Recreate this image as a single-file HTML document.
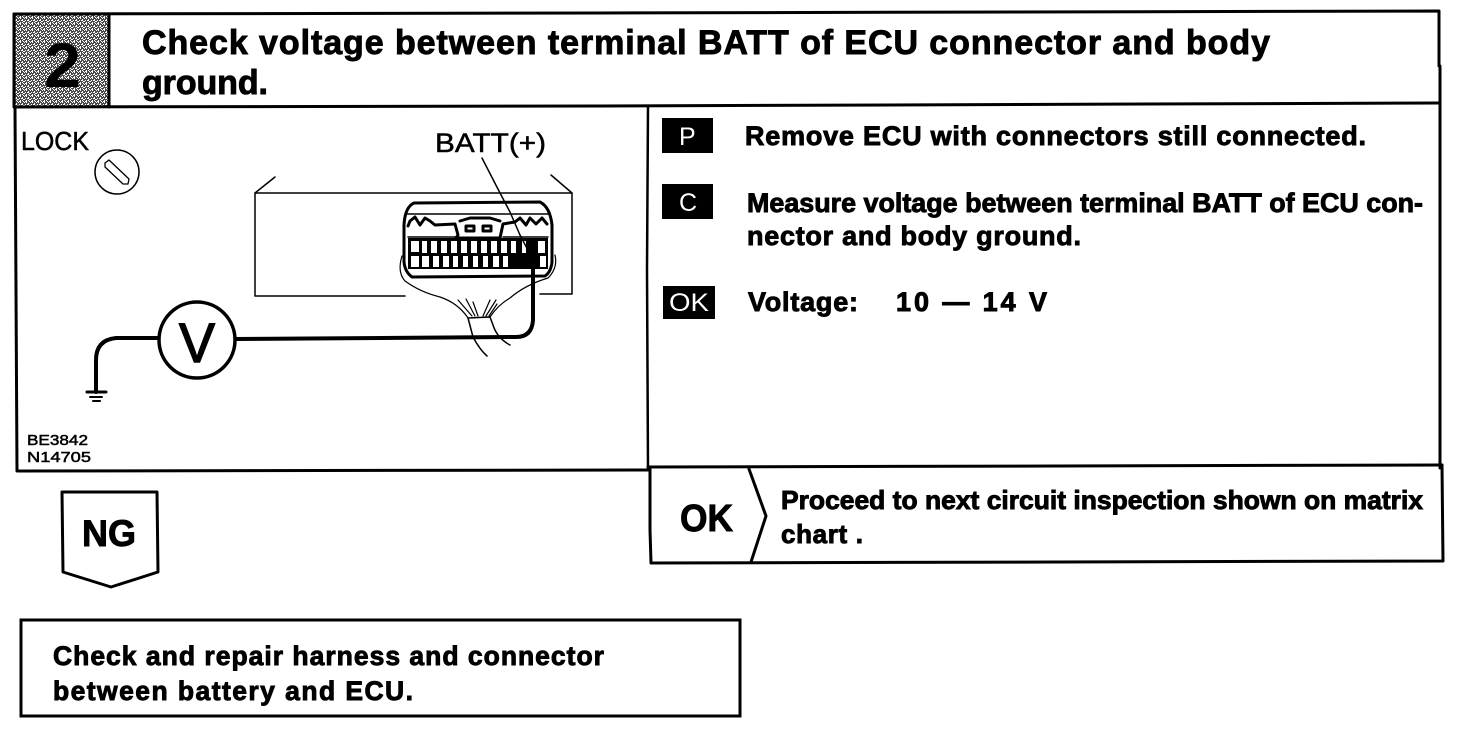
<!DOCTYPE html>
<html>
<head>
<meta charset="utf-8">
<style>
html,body{margin:0;padding:0;background:#fff;width:1472px;height:736px;overflow:hidden}
svg{display:block}
text{font-family:"Liberation Sans",sans-serif;fill:#000}
.b{font-weight:bold;stroke:#000;stroke-width:.9px}
.n{stroke:#000;stroke-width:.5px}
.l{fill:none;stroke:#000;stroke-linecap:round;stroke-linejoin:round}
</style>
</head>
<body>
<svg width="1472" height="736" viewBox="0 0 1472 736" xmlns="http://www.w3.org/2000/svg">
<defs>
<pattern id="g" width="6" height="6" patternUnits="userSpaceOnUse">
<rect width="6" height="6" fill="#4a4a4a"/>
<rect x="0" y="0" width="1" height="1" fill="#fff"/>
<rect x="2" y="0" width="1" height="1" fill="#fff"/>
<rect x="4" y="1" width="1" height="1" fill="#fff"/>
<rect x="1" y="2" width="1" height="1" fill="#fff"/>
<rect x="3" y="2" width="2" height="1" fill="#fff"/>
<rect x="0" y="3" width="1" height="1" fill="#fff"/>
<rect x="5" y="3" width="1" height="1" fill="#fff"/>
<rect x="2" y="4" width="1" height="1" fill="#fff"/>
<rect x="4" y="4" width="1" height="1" fill="#fff"/>
<rect x="1" y="5" width="2" height="1" fill="#fff"/>
<rect x="5" y="5" width="1" height="1" fill="#fff"/>
</pattern>
</defs>

<!-- header -->
<rect x="14" y="14" width="95" height="93" fill="url(#g)"/>
<path class="l" stroke-width="3" d="M14 14 L600 13 L1439 11 L1439 66 M1440 66 L1440 468"/>
<path class="l" stroke-width="3" d="M14 14 L14 107 L600 106 L1439 103"/>
<path class="l" stroke-width="3" d="M109 14 L109 107"/>
<text x="44" y="87" font-size="63" style="font-weight:bold" textLength="37" lengthAdjust="spacingAndGlyphs">2</text>
<text x="142" y="54" font-size="34" class="b" textLength="1128" lengthAdjust="spacing">Check voltage between terminal BATT of ECU connector and body</text>
<text x="142" y="94" font-size="34" class="b" textLength="126" lengthAdjust="spacing">ground.</text>

<!-- main frame -->
<path class="l" stroke-width="3" d="M15 107 L16 290 L17 471 L648 470"/>
<path class="l" stroke-width="2.5" d="M648 106 L647 270 L648 470"/>
<path class="l" stroke-width="3" d="M648 467 L1442 465"/>

<!-- left diagram -->
<text x="21" y="150" font-size="26" class="n" textLength="68" lengthAdjust="spacingAndGlyphs">LOCK</text>
<circle class="l" cx="117" cy="172" r="22" stroke-width="1.5"/>
<path class="l" stroke-width="1.3" d="M105 163 L109 160 L129 179 L128 184 L123 184 L105 167 Z"/>
<text x="435" y="152" font-size="27" class="n" textLength="111" lengthAdjust="spacingAndGlyphs">BATT(+)</text>

<!-- ECU body -->
<path class="l" stroke-width="1.5" d="M275 177 L255 193 L255 296 L405 296"/>
<path class="l" stroke-width="1.5" d="M255 193 L572 193 L572 294 L540 294"/>
<path class="l" stroke-width="1.5" d="M551 175 L572 193"/>

<!-- connector -->
<path class="l" stroke-width="3" d="M404 262 L404 225 Q405 207 414 203 L540 202 Q550 207 552 225 L552 262 Q551 272 545 276 L412 277 Q405 272 404 262 Z"/>
<path class="l" stroke-width="1.5" d="M406 214 L550 214"/>
<path class="l" stroke-width="3" d="M408 226 L410 221 L415 217 L420 225 L425 218 L430 221 L435 225 L455 224 L458 235 L456 238 L472 238 L500 238 L503 224 L515 222 L520 218 L526 225 L530 218 L536 224 L542 218 L547 224"/>
<path class="l" stroke-width="3" d="M460 221 L470 218 L490 218 L500 221 M466 226 L474 226 L474 231 L466 231 Z M483 226 L491 226 L491 231 L483 231 Z"/>
<path class="l" stroke-width="1.5" d="M408 237 L455 237 M503 237 L548 237"/>
<!-- pins -->
<rect x="408" y="238" width="140" height="31" fill="#000"/>
<g fill="#fff">
<rect x="411" y="241" width="8" height="11"/><rect x="422" y="241" width="5" height="12"/><rect x="431" y="241" width="6" height="12"/><rect x="441" y="241" width="6" height="12"/><rect x="451" y="241" width="6" height="12"/><rect x="461" y="241" width="6" height="12"/><rect x="471" y="241" width="6" height="12"/><rect x="481" y="241" width="6" height="12"/><rect x="491" y="241" width="6" height="12"/><rect x="501" y="241" width="6" height="12"/><rect x="511" y="241" width="5" height="12"/><rect x="522" y="241" width="4" height="12"/><rect x="538" y="241" width="7" height="12"/>
<rect x="411" y="256" width="8" height="11"/><rect x="422" y="256" width="7" height="11"/><rect x="433" y="256" width="6" height="11"/><rect x="443" y="256" width="6" height="11"/><rect x="453" y="256" width="5" height="11"/><rect x="463" y="256" width="5" height="11"/><rect x="473" y="256" width="5" height="11"/><rect x="483" y="256" width="5" height="11"/><rect x="493" y="256" width="6" height="11"/><rect x="503" y="256" width="5" height="11"/><rect x="540" y="256" width="6" height="11"/>
</g>
<!-- harness -->
<path class="l" stroke-width="1.2" d="M402 256 Q397 272 405 281 Q420 292 440 297 Q458 303 468 318"/>
<path class="l" stroke-width="1.2" d="M555 255 Q558 268 548 278 Q525 285 510 298 Q498 305 490 317"/>
<path class="l" stroke-width="1.2" d="M458 300 L472 316 M466 299 L475 316 M473 302 L478 316 M490 300 L483 316 M496 300 L486 316 M497 304 L489 316"/>
<path class="l" stroke-width="1.5" d="M468 318 L490 317 L493 325 Q497 338 510 345 M468 318 L473 337 Q480 350 487 356"/>

<!-- wires -->
<path class="l" stroke-width="4" d="M533 258 L533 320 Q532 337 516 337 L236 339"/>
<circle cx="533" cy="257" r="3" fill="#000"/>
<path class="l" stroke-width="1.5" d="M482 158 L500 193 L510 212 L520 235 L531 256"/>
<circle class="l" cx="197" cy="340" r="38" stroke-width="3.5"/>
<text x="179" y="362" font-size="56" textLength="36" lengthAdjust="spacingAndGlyphs" stroke="#000" stroke-width="1.4">V</text>
<path class="l" stroke-width="4" d="M158 338 L116 338 Q96 340 96 360 L96 392"/>
<path class="l" stroke-width="3" d="M87 392 L106 392"/>
<path class="l" stroke-width="2" d="M90 397 L102 397 M93 401 L100 401"/>
<text x="27" y="445" font-size="15" class="n" textLength="61" lengthAdjust="spacingAndGlyphs">BE3842</text>
<text x="27" y="462" font-size="15" class="n" textLength="64" lengthAdjust="spacingAndGlyphs">N14705</text>

<!-- right panel -->
<rect x="662" y="118" width="51" height="35" fill="#000"/>
<text x="679" y="145" font-size="25" style="fill:#fff">P</text>
<rect x="662" y="184" width="51" height="35" fill="#000"/>
<text x="679" y="211" font-size="25" style="fill:#fff">C</text>
<rect x="663" y="286" width="52" height="33" fill="#000"/>
<text x="669" y="311" font-size="25" style="fill:#fff" textLength="40" lengthAdjust="spacingAndGlyphs">OK</text>

<text x="745" y="145" font-size="27" class="b" textLength="621" lengthAdjust="spacing">Remove ECU with connectors still connected.</text>
<text x="747" y="212" font-size="27" class="b" textLength="676" lengthAdjust="spacingAndGlyphs">Measure voltage between terminal BATT of ECU con-</text>
<text x="747" y="245" font-size="27" class="b" textLength="334" lengthAdjust="spacing">nector and body ground.</text>
<text x="748" y="311" font-size="27" class="b" textLength="110" lengthAdjust="spacing">Voltage:</text>
<text x="896" y="311" font-size="27" class="b" textLength="151" lengthAdjust="spacing">10 — 14 V</text>

<!-- OK box -->
<path class="l" stroke-width="3" d="M650 467 L650 530 L651 563 L1443 561 L1442 465"/>
<path class="l" stroke-width="3" d="M749 469 L766 516 L751 562"/>
<text x="680" y="531" font-size="38" class="b" textLength="53" lengthAdjust="spacingAndGlyphs">OK</text>
<text x="781" y="509" font-size="26" class="b" textLength="642" lengthAdjust="spacingAndGlyphs">Proceed to next circuit inspection shown on matrix</text>
<text x="781" y="543" font-size="26" class="b" textLength="82" lengthAdjust="spacing">chart .</text>

<!-- NG -->
<path class="l" stroke-width="3" d="M62 492 L157 492 L158 572 L111 587 L63 572 Z"/>
<text x="82" y="546" font-size="37" class="b" textLength="54" lengthAdjust="spacingAndGlyphs">NG</text>

<!-- bottom box -->
<rect x="21" y="620" width="719" height="96" fill="none" stroke="#000" stroke-width="3"/>
<text x="53" y="665" font-size="26.5" class="b" textLength="551" lengthAdjust="spacing">Check and repair harness and connector</text>
<text x="53" y="700" font-size="26.5" class="b" textLength="360" lengthAdjust="spacing">between battery and ECU.</text>
</svg>
</body>
</html>
